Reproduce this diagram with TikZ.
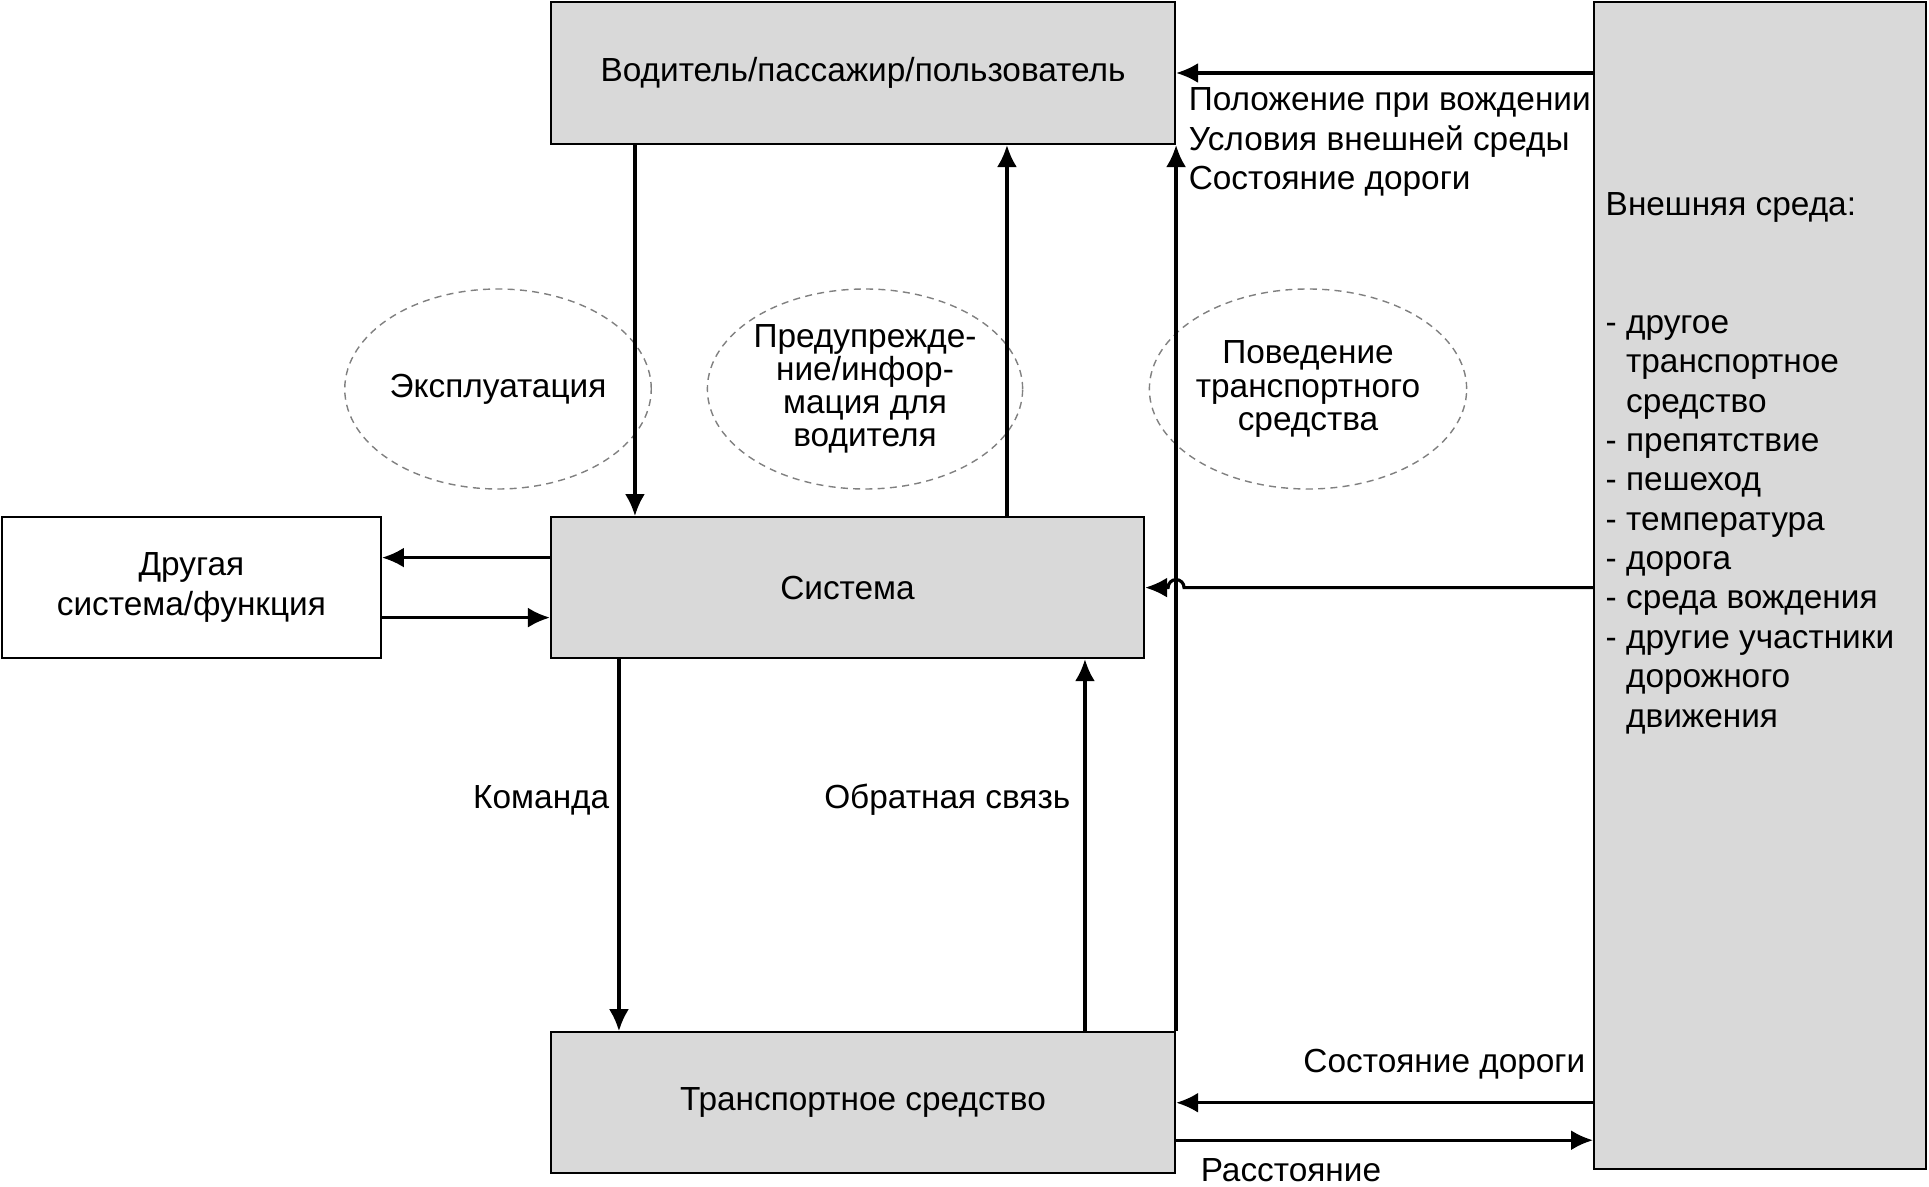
\documentclass[tikz,border=0pt]{standalone}
\usepackage{fontspec}
\setmainfont{Liberation Sans}
\usepackage{tikz}
\usetikzlibrary{positioning}
\usetikzlibrary{calc,arrows.meta}
\usetikzlibrary{shapes.geometric}
\definecolor{box-fill}{HTML}{D9D9D9}
\definecolor{dash-gray}{HTML}{808080}

\begin{document}
\begin{tikzpicture}[
    node distance=3.71cm, % vertical gap between the three middle boxes
    font=\fontsize{9.5}{11.2}\selectfont,
    >={Latex[length=2.2mm,width=2mm]}
  ]

  % Styles
  \tikzset{
    blk/.style={draw, line width=0.6pt, fill=box-fill, minimum height=1.41cm, inner sep=0pt, align=center},
    plainblk/.style={draw, line width=0.6pt, fill=white, minimum height=1.41cm, inner sep=0pt, align=center},
    bubble/.style={ellipse, draw=dash-gray, line width=0.4pt, dash pattern=on 2pt off 1.5pt, minimum width=3.0cm, minimum height=2.0cm, inner sep=0pt, align=center, font=\fontsize{9.5}{9.4}\selectfont},
    flow/.style={->, line width=0.9pt},
    lbl/.style={inner sep=0pt, align=left}
  }

  \useasboundingbox (0,0) rectangle (19.29,-11.87);

  % Boxes
  \node (drv) [blk, minimum width=6.24cm, minimum height=1.42cm] at (8.63,-0.73) {Водитель/пассажир/пользователь};
  \node (sys) [blk, minimum width=5.93cm, below=of drv.south west, anchor=north west] {Система};
  \node (veh) [blk, minimum width=6.24cm, below=3.72cm of sys.south west, anchor=north west] {Транспортное средство};
  \node (oth) [plainblk, minimum width=3.79cm, left=1.68cm of sys] {Другая\\система/функция};
  \node (env) [blk, minimum width=3.32cm, minimum height=11.67cm, right=4.17cm of drv.north east, anchor=north west] {};
  \node (envtxt) [lbl, anchor=west] at (16.05,-4.63) {Внешняя среда:\\[22.4pt]
    - другое\\
    \hphantom{- }транспортное\\
    \hphantom{- }средство\\
    - препятствие\\
    - пешеход\\
    - температура\\
    - дорога\\
    - среда вождения\\
    - другие участники\\
    \hphantom{- }дорожного\\
    \hphantom{- }движения};

  % Dashed bubbles
  \node (expl) [bubble] at (4.98,-3.89) {Эксплуатация};
  \node (warn) [bubble] at (8.65,-3.89) {Предупрежде-\\ние/инфор-\\мация для\\водителя};
  \node (beh) [bubble] at (13.08,-3.89) {Поведение\\транспортного\\средства};

  % Vertical flows
  \draw[flow] ([xshift=0.85cm]drv.south west) -- ([xshift=0.85cm]sys.north west);
  \draw[flow] ([xshift=4.57cm]sys.north west) -- ([xshift=4.57cm]drv.south west);
  \draw[flow] ([xshift=0.69cm]sys.south west) -- ([xshift=0.69cm]veh.north west);
  \draw[flow] ([xshift=5.35cm]veh.north west) -- ([xshift=5.35cm]sys.south west);
  \draw[flow] (veh.north east) -- (drv.south east);

  % Side flows
  \draw[flow] ([yshift=0.3cm]sys.west) -- ([yshift=0.3cm]oth.east);
  \draw[flow] ([yshift=-0.3cm]oth.east) -- ([yshift=-0.3cm]sys.west);
  \draw[flow] (env.west |- drv.east) -- (drv.east);
  \draw[flow] (env.west |- sys.east) -- ($(veh.north east |- sys.east)+(0.08,0)$)
    arc[start angle=0, end angle=180, radius=0.08cm] -- (sys.east);
  \draw[flow] (env.west |- veh.east) -- (veh.east);
  \draw[flow] ($(veh.east)+(0,-0.375)$) -- ($(veh.east -| env.west)+(0,-0.375)$);

  % Labels
  \node (cond) [lbl, anchor=west] at ($(drv.south east)+(0.12,0.03)$) {Положение при вождении\\Условия внешней среды\\Состояние дороги};
  \node (road) [lbl, anchor=east] at ($(env.west |- veh.east)+(-0.07,0.385)$) {Состояние дороги};
  \node (dist) [lbl, anchor=west] at ($(veh.east)+(0.24,-0.67)$) {Расстояние};
  \node (cmd) [lbl, anchor=east] at ($(sys.south west)+(0.60,-1.41)$) {Команда};
  \node (fdb) [lbl, anchor=east] at ($(sys.south west)+(5.21,-1.41)$) {Обратная связь};

\end{tikzpicture}
\end{document}
